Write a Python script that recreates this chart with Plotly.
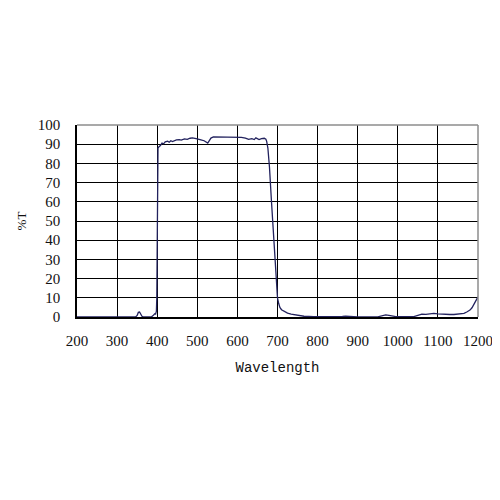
import plotly.graph_objects as go

# Wavelength (nm) and transmission (%T)
wavelength = [200, 340, 346, 350, 353, 356, 359, 362, 365, 370, 385, 389, 392, 394, 396, 398,
              399, 400, 401, 402, 404, 408, 412, 416, 420, 426, 430, 434, 438, 443, 448, 455,
              460, 468, 475, 482, 488, 497, 503, 509, 517, 521, 526, 530, 534, 540, 560, 580,
              600, 610, 620, 628, 636, 642, 646, 650, 654, 660, 667, 671, 673, 676, 680, 685,
              690, 695, 698, 700, 703, 706, 710, 717, 725, 734, 750, 766, 790, 820, 850, 862,
              870, 878, 886, 900, 950, 962, 970, 978, 986, 995, 1040, 1053, 1060, 1070, 1080,
              1090, 1100, 1110, 1120, 1130, 1140, 1150, 1160, 1165, 1172, 1180, 1185, 1190,
              1194, 1197, 1200]
transmission = [0, 0, 0, 0.8, 2.4, 2.6, 1.2, 0.4, 0.1, 0, 0, 0.6, 1.6, 1.7, 1.5, 3,
                10, 40, 80, 88, 88.6, 89.3, 90.6, 90.2, 91.2, 91.6, 91, 91.8, 91.4, 91.9, 92.2, 92.4,
                92.1, 92.8, 92.5, 93.1, 93.3, 92.9, 92.4, 92.3, 91.8, 91.4, 90.6, 91.9, 93.2, 93.8, 93.8, 93.8,
                93.7, 93.6, 93.2, 92.5, 92.9, 92.4, 93.3, 92.8, 92.4, 92.9, 93.1, 92.6, 91.5, 88, 78, 60,
                42, 24, 14, 10, 7, 5, 3.8, 2.8, 2, 1.5, 0.8, 0.4, 0.2, 0.1, 0.1, 0.3,
                0.5, 0.3, 0.1, 0.1, 0.1, 0.6, 1.1, 0.9, 0.5, 0.2, 0.2, 1.3, 1.5, 1.4, 1.7,
                1.9, 1.6, 1.4, 1.4, 1.3, 1.3, 1.4, 1.6, 1.9, 2.6, 3.6, 4.8, 6.5,
                8.2, 9.5, 10.5]

x_ticks = [200, 300, 400, 500, 600, 700, 800, 900, 1000, 1100, 1200]
y_ticks = [0, 10, 20, 30, 40, 50, 60, 70, 80, 90, 100]

fig = go.Figure()
fig.add_trace(go.Scatter(
    x=wavelength, y=transmission, mode="lines",
    line=dict(color="#22225e", width=1.3), showlegend=False,
))

tick_font = dict(family="Liberation Serif", size=15, color="#111111")

fig.update_layout(
    width=500, height=500,
    margin=dict(l=69, r=30, t=117, b=191),
    paper_bgcolor="white", plot_bgcolor="white",
    xaxis=dict(
        range=[200, 1200], tickmode="array", tickvals=x_ticks,
        ticktext=[str(v) for v in x_ticks],
        showgrid=True, gridcolor="#000000", gridwidth=1.2,
        showline=True, linecolor="#000000", linewidth=1.5,
        ticks="", ticklabelstandoff=9, tickfont=tick_font,
        zeroline=False, automargin=False,
        title=dict(text="Wavelength", font=dict(family="Liberation Mono", size=14, color="#111111"),
                   standoff=14),
    ),
    yaxis=dict(
        range=[0, 100], tickmode="array", tickvals=y_ticks,
        ticktext=[str(v) for v in y_ticks],
        showgrid=True, gridcolor="#000000", gridwidth=1.2,
        showline=True, linecolor="#000000", linewidth=1.5,
        ticks="", ticklabelstandoff=12, tickfont=tick_font,
        zeroline=False, automargin=False,
        title=dict(text="%T", font=dict(family="Liberation Serif", size=13, color="#111111"),
                   standoff=8),
    ),
    shapes=[
        dict(type="line", xref="paper", yref="paper", x0=0, x1=1, y0=1, y1=1,
             line=dict(color="#8c8c8c", width=1.5)),
        dict(type="line", xref="paper", yref="paper", x0=1, x1=1, y0=0, y1=1,
             line=dict(color="#8c8c8c", width=1.5)),
    ],
)

fig.write_html("out.html")
